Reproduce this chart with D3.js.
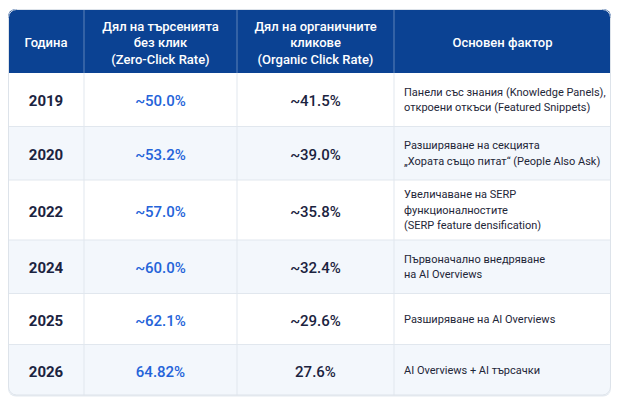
<!DOCTYPE html>
<html>
<head>
<meta charset="utf-8">
<script src="https://cdn.jsdelivr.net/npm/d3@7"></script>
<style>
  html, body { margin: 0; padding: 0; background: #ffffff; }
  svg { display: block; font-family: Roboto, "Noto Sans", sans-serif; }
</style>
</head>
<body>
<div id="chart"></div>
<script>
// table content
const headers = [
    ["Година"],
    ["Дял на търсенията", "без клик", "(Zero-Click Rate)"],
    ["Дял на органичните", "кликове", "(Organic Click Rate)"],
    ["Основен фактор"]
];
const years = ["2019", "2020", "2022", "2024", "2025", "2026"];
const zeroClick = ["~50.0%", "~53.2%", "~57.0%", "~60.0%", "~62.1%", "64.82%"];
const organic = ["~41.5%", "~39.0%", "~35.8%", "~32.4%", "~29.6%", "27.6%"];
const factors = [
    ["Панели със знания (Knowledge Panels),", "откроени откъси (Featured Snippets)"],
    ["Разширяване на секцията", "„Хората също питат“ (People Also Ask)"],
    ["Увеличаване на SERP", "функционалностите", "(SERP feature densification)"],
    ["Първоначално внедряване", "на AI Overviews"],
    ["Разширяване на AI Overviews"],
    ["AI Overviews + AI търсачки"]
];

const width = 620, height = 413;
const tblLeft = 8, tblRight = 611, tblTop = 9, headerH = 64;
const colEdges = [tblLeft, 84, 237, 394, tblRight];
const lineH = 15.5;

// row height depends on how many lines the factor text has
const heightByLines = {1: 51, 2: 53.5, 3: 60};
const rowH = factors.map(f => heightByLines[f.length]);
const rowY = [];
let acc = tblTop + headerH;
for (const h of rowH) { rowY.push(acc); acc += h; }
const tblBottom = acc;

const svg = d3.select('#chart').append('svg')
    .attr('width', width).attr('height', height);

const defs = svg.append('defs');
defs.append('clipPath').attr('id', 'tbl-clip')
    .append('rect')
    .attr('x', tblLeft).attr('y', tblTop)
    .attr('width', tblRight - tblLeft).attr('height', tblBottom - tblTop)
    .attr('rx', 8);

// soft outline / shadow
svg.append('rect')
    .attr('x', tblLeft).attr('y', tblTop + 1)
    .attr('width', tblRight - tblLeft).attr('height', tblBottom - tblTop)
    .attr('rx', 8)
    .attr('fill', '#e4e9ef');

const tbl = svg.append('g').attr('clip-path', 'url(#tbl-clip)');

// header band
tbl.append('rect')
    .attr('x', tblLeft).attr('y', tblTop)
    .attr('width', tblRight - tblLeft).attr('height', headerH)
    .attr('fill', '#0b4293');

// body rows
tbl.selectAll('.row-bg')
    .data(years)
    .join('rect')
    .attr('class', 'row-bg')
    .attr('x', tblLeft)
    .attr('y', (d, i) => rowY[i])
    .attr('width', tblRight - tblLeft)
    .attr('height', (d, i) => rowH[i])
    .attr('fill', (d, i) => i % 2 == 1 ? '#f3f7fc' : '#ffffff');

// horizontal row separators
tbl.selectAll('.row-line')
    .data(years.slice(1))
    .join('line')
    .attr('class', 'row-line')
    .attr('x1', tblLeft).attr('x2', tblRight)
    .attr('y1', (d, i) => rowY[i + 1]).attr('y2', (d, i) => rowY[i + 1])
    .attr('stroke', '#e1e7ee').attr('stroke-width', 1);

// vertical column separators
tbl.selectAll('.col-line-h')
    .data(colEdges.slice(1, -1))
    .join('line')
    .attr('x1', d => d).attr('x2', d => d)
    .attr('y1', tblTop).attr('y2', tblTop + headerH)
    .attr('stroke', '#5f82b8').attr('stroke-width', 1);

tbl.selectAll('.col-line-b')
    .data(colEdges.slice(1, -1))
    .join('line')
    .attr('x1', d => d).attr('x2', d => d)
    .attr('y1', tblTop + headerH).attr('y2', tblBottom)
    .attr('stroke', '#e1e7ee').attr('stroke-width', 1);

// outer border
svg.append('rect')
    .attr('x', tblLeft + 0.5).attr('y', tblTop + 0.5)
    .attr('width', tblRight - tblLeft - 1).attr('height', tblBottom - tblTop - 1)
    .attr('rx', 8)
    .attr('fill', 'none')
    .attr('stroke', '#dde3ea');

const colCenter = i => (colEdges[i] + colEdges[i + 1]) / 2;

// header text
const headLineH = 16.5;
headers.forEach((lines, c) => {
    const cy = tblTop + headerH / 2 + 1.5;
    const t = svg.append('text')
        .attr('text-anchor', 'middle')
        .attr('fill', '#ffffff')
        .attr('font-size', 13)
        .attr('font-weight', 500);
    lines.forEach((ln, k) => {
        t.append('tspan')
            .attr('x', colCenter(c))
            .attr('y', cy + (k - (lines.length - 1) / 2) * headLineH)
            .attr('dy', '0.36em')
            .text(ln);
    });
});

const rowMid = i => rowY[i] + rowH[i] / 2 + 1;

svg.selectAll('.year')
    .data(years)
    .join('text')
    .attr('class', 'year')
    .attr('x', colCenter(0))
    .attr('y', (d, i) => rowMid(i))
    .attr('dy', '0.38em')
    .attr('text-anchor', 'middle')
    .attr('font-size', 15)
    .attr('font-weight', 700)
    .attr('fill', '#1b2340')
    .text(d => d);

svg.selectAll('.zero')
    .data(zeroClick)
    .join('text')
    .attr('class', 'zero')
    .attr('x', colCenter(1))
    .attr('y', (d, i) => rowMid(i))
    .attr('dy', '0.38em')
    .attr('text-anchor', 'middle')
    .attr('font-size', 15)
    .attr('font-weight', 500)
    .attr('fill', '#2463d9')
    .text(d => d);

svg.selectAll('.organic')
    .data(organic)
    .join('text')
    .attr('class', 'organic')
    .attr('x', colCenter(2))
    .attr('y', (d, i) => rowMid(i))
    .attr('dy', '0.38em')
    .attr('text-anchor', 'middle')
    .attr('font-size', 15)
    .attr('font-weight', 500)
    .attr('fill', '#1b2340')
    .text(d => d);

svg.selectAll('.factor')
    .data(factors)
    .join('text')
    .attr('class', 'factor')
    .attr('font-size', 11)
    .attr('fill', '#1e2638')
    .each(function(lines, i){
        const t = d3.select(this);
        lines.forEach((ln, k) => {
            t.append('tspan')
                .attr('x', colEdges[3] + 10)
                .attr('y', rowMid(i) - 1 + (k - (lines.length - 1) / 2) * lineH)
                .attr('dy', '0.36em')
                .text(ln);
        });
    });
</script>
</body>
</html>
